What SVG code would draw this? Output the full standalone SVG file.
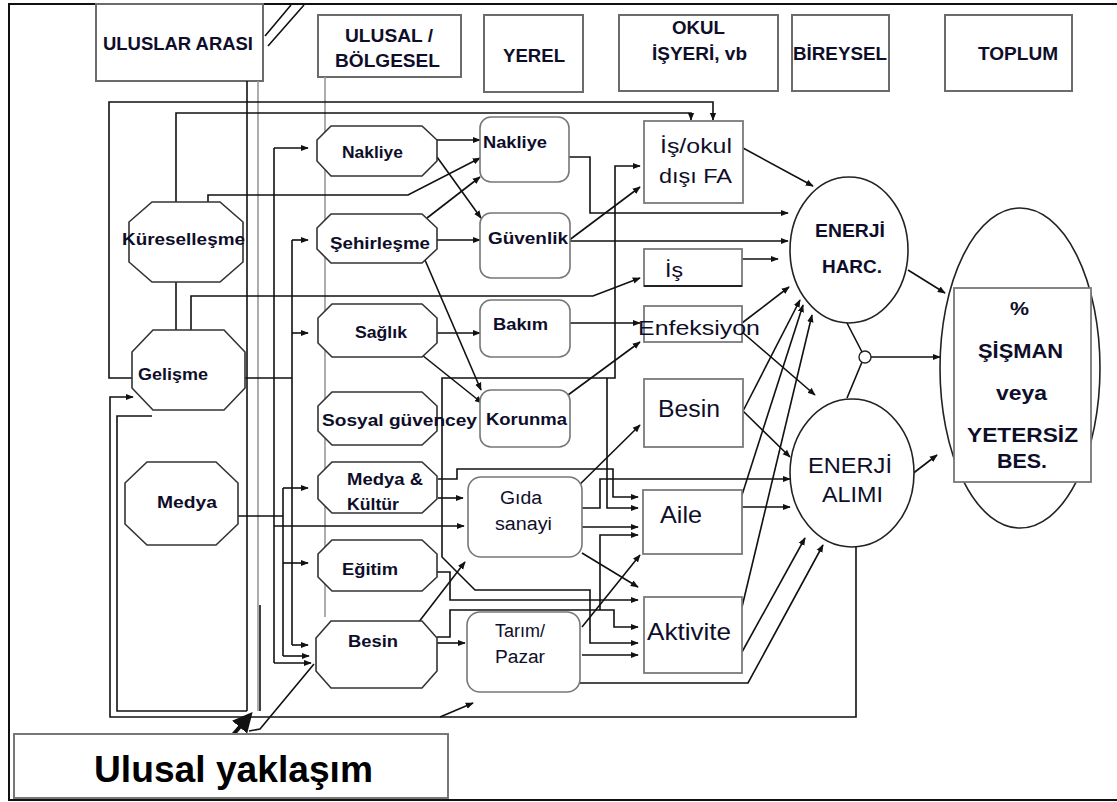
<svg xmlns="http://www.w3.org/2000/svg" width="1117" height="802" viewBox="0 0 1117 802">
<defs>
<marker id="ah" viewBox="0 0 10 10" refX="9" refY="5" markerWidth="8" markerHeight="8" markerUnits="userSpaceOnUse" orient="auto-start-reverse"><path d="M0,1 L10,5 L0,9 z" fill="#111"/></marker>
<marker id="ahb" viewBox="0 0 10 10" refX="8" refY="5" markerWidth="5" markerHeight="5" orient="auto"><path d="M0,0 L10,5 L0,10 z" fill="#111"/></marker>
</defs>
<style>
.hdr{fill:#fff;stroke:#6b6b6b;stroke-width:2}
.oct{fill:#fff;stroke:#333;stroke-width:1.6}
.rbx{fill:#fff;stroke:#777;stroke-width:1.6}
.obx{fill:#fff;stroke:#7a7a7a;stroke-width:1.8}
.ell{fill:#fff;stroke:#222;stroke-width:1.6}
.t{font-family:"Liberation Sans",Arial,sans-serif;fill:#0e0e2a}
.b{font-weight:bold}
.c{fill:none;stroke:#111;stroke-width:1.6}
.ca{fill:none;stroke:#111;stroke-width:1.6;marker-end:url(#ah)}
.g{fill:none;stroke:#999;stroke-width:1.6}
</style>
<rect x="0" y="0" width="1117" height="802" fill="#fff"/>
<g id="frame" fill="none" stroke="#111" stroke-width="2">
<path d="M1117,4 H9 V800 H1117"/>
</g>

<g id="hdr-uluslar"><rect class="hdr" x="96" y="4" width="167" height="77"/><text class="t b" x="103" y="50" font-size="18" textLength="150" lengthAdjust="spacingAndGlyphs">ULUSLAR ARASI</text></g>
<g id="hdr-ulusal"><rect class="hdr" x="318" y="15" width="143" height="62"/><text class="t b" x="345" y="42" font-size="18" textLength="88" lengthAdjust="spacingAndGlyphs">ULUSAL /</text><text class="t b" x="335" y="67" font-size="18" textLength="105" lengthAdjust="spacingAndGlyphs">BÖLGESEL</text></g>
<g id="hdr-yerel"><rect class="hdr" x="484" y="15" width="99" height="77"/><text class="t b" x="503" y="62" font-size="18" textLength="62" lengthAdjust="spacingAndGlyphs">YEREL</text></g>
<g id="hdr-okul"><rect class="hdr" x="619" y="15" width="159" height="76"/><text class="t b" x="672" y="34" font-size="18" textLength="53" lengthAdjust="spacingAndGlyphs">OKUL</text><text class="t b" x="652" y="60" font-size="18" textLength="95" lengthAdjust="spacingAndGlyphs">İŞYERİ, vb</text></g>
<g id="hdr-bireysel"><rect class="hdr" x="792" y="15" width="97" height="76"/><text class="t b" x="793" y="60" font-size="18" textLength="94" lengthAdjust="spacingAndGlyphs">BİREYSEL</text></g>
<g id="hdr-toplum"><rect class="hdr" x="945" y="15" width="127" height="76"/><text class="t b" x="978" y="60" font-size="18" textLength="80" lengthAdjust="spacingAndGlyphs">TOPLUM</text></g>

<g id="connectors">
<path class="g" d="M258,81 V711"/>
<path class="g" d="M325,77 V617"/>
<path class="c" d="M265,36 L291,5 M268,46 L304,5"/>
<path class="c" d="M247,81 V711"/>
<path class="c" d="M260,605 V711"/>
<path class="ca" d="M132,378 H109 V102 H713 V120"/>
<path class="ca" d="M176,202 V113 H691 V120"/>
<path class="c" d="M176,282 V330"/>
<path class="ca" d="M208,202 V195 H408 L480,158"/>
<path class="ca" d="M191,330 V296 H593 L640,278"/>
<path class="c" d="M245,378 H292 M292,240 V645"/>
<path class="ca" d="M292,240 H308"/>
<path class="ca" d="M292,333 H308"/>
<path class="ca" d="M292,645 H308"/>
<path class="c" d="M274,148 V663"/>
<path class="ca" d="M274,148 H308"/>
<path class="ca" d="M274,663 H311"/>
<path class="ca" d="M274,526 H464"/>
<path class="c" d="M238,516 H283 M283,488 V656"/>
<path class="ca" d="M283,488 H308"/>
<path class="ca" d="M283,563 H308"/>
<path class="ca" d="M283,656 H309"/>
<path class="c" d="M152,416 H117 V711 H247"/>
<path class="ca" d="M856,547 V717 H110 V397 H133"/>
<path class="ca" d="M440,717 L473,703"/>
<path d="M232,736 L250,715" fill="none" stroke="#111" stroke-width="4" marker-end="url(#ahb)"/>
<path class="c" d="M249,731 L260,729 L314,664"/>
<path class="ca" d="M437,140 H480"/>
<path class="ca" d="M437,157 L481,218"/>
<path class="ca" d="M427,218 L480,177" stroke-width="2.6"/>
<path class="ca" d="M437,240 H480"/>
<path class="ca" d="M425,260 L481,390"/>
<path class="ca" d="M437,333 H480"/>
<path class="ca" d="M422,355 L482,403"/>
<path class="ca" d="M569,157 H590 V213 H788"/>
<path class="ca" d="M570,241 H788"/>
<path class="ca" d="M568,241 L640,187"/>
<path class="ca" d="M565,323 H640"/>
<path class="ca" d="M568,395 L640,342"/>
<path class="ca" d="M640,166 H615 V378 H442 V557 L475,590 H590 V643 H638" marker-start="url(#ah)"/>
<path class="ca" d="M607,378 V508 H638"/>
<path class="c" d="M437,418 H442"/>
<path class="ca" d="M438,479 H457 V469 H613 V497 H638"/>
<path class="ca" d="M438,498 H463"/>
<path class="ca" d="M582,508 H600 V479 H790"/>
<path class="ca" d="M582,527 H638"/>
<path class="ca" d="M567,497 L640,425"/>
<path class="ca" d="M582,553 L638,587"/>
<path class="ca" d="M437,572 H450 V600 H638"/>
<path class="ca" d="M437,637 H450 V610 H614 V627 H638"/>
<path class="ca" d="M600,610 V535 H638"/>
<path class="ca" d="M418,623 L465,562"/>
<path class="ca" d="M435,643 H465"/>
<path class="ca" d="M582,655 H638"/>
<path class="ca" d="M582,627 L640,555"/>
<path class="ca" d="M580,683 H748 L823,545"/>
<path class="ca" d="M743,148 L813,186"/>
<path class="ca" d="M742,259 H778"/>
<path class="ca" d="M742,323 L789,287"/>
<path class="ca" d="M742,332 L815,395"/>
<path class="ca" d="M742,413 L800,300"/>
<path class="ca" d="M742,410 L790,457"/>
<path class="ca" d="M742,495 L803,305"/>
<path class="ca" d="M742,507 H790"/>
<path class="ca" d="M742,607 L812,315"/>
<path class="ca" d="M742,652 L805,538"/>
<path class="ca" d="M908,270 L945,293"/>
<path class="c" d="M847,323 L862,352 M862,362 L847,398"/>
<path class="ca" d="M871,357 H940"/>
<path class="ca" d="M907,478 L937,455"/>
</g>

<g id="kureselleşme"><path class="oct" d="M152,202 H220 L243,222 V262 L220,282 H152 L129,262 V222 Z"/><text class="t b" x="122" y="245" font-size="17" textLength="123" lengthAdjust="spacingAndGlyphs">Küreselleşme</text></g>
<g id="gelisme"><path class="oct" d="M153,330 H224 L245,352 V388 L224,410 H153 L132,388 V352 Z"/><text class="t b" x="138" y="380" font-size="17" textLength="70" lengthAdjust="spacingAndGlyphs">Gelişme</text></g>
<g id="medya"><path class="oct" d="M147,462 H216 L238,483 V524 L216,545 H147 L125,524 V483 Z"/><text class="t b" x="157" y="508" font-size="17" textLength="60" lengthAdjust="spacingAndGlyphs">Medya</text></g>

<g id="nakliye-oct"><path class="oct" d="M331,126 H422 L437,140 V161 L422,176 H331 L317,161 V140 Z"/><text class="t b" x="342" y="158" font-size="17" textLength="61" lengthAdjust="spacingAndGlyphs">Nakliye</text></g>
<g id="sehirlesme"><path class="oct" d="M331,214 H422 L437,228 V249 L422,263 H331 L317,249 V228 Z"/><text class="t b" x="330" y="249" font-size="17" textLength="100" lengthAdjust="spacingAndGlyphs">Şehirleşme</text></g>
<g id="saglik"><path class="oct" d="M332,304 H422 L437,318 V343 L422,357 H332 L318,343 V318 Z"/><text class="t b" x="355" y="338" font-size="17" textLength="52" lengthAdjust="spacingAndGlyphs">Sağlık</text></g>
<g id="sosyal"><path class="oct" d="M332,392 H422 L437,406 V431 L422,445 H332 L318,431 V406 Z"/><text class="t b" x="322" y="426" font-size="17" textLength="155" lengthAdjust="spacingAndGlyphs">Sosyal güvencey</text></g>
<g id="medya-kultur"><path class="oct" d="M332,462 H422 L437,476 V499 L422,513 H332 L318,499 V476 Z"/><text class="t b" x="347" y="485" font-size="17" textLength="76" lengthAdjust="spacingAndGlyphs">Medya &amp;</text><text class="t b" x="347" y="510" font-size="17" textLength="52" lengthAdjust="spacingAndGlyphs">Kültür</text></g>
<g id="egitim"><path class="oct" d="M332,540 H422 L437,554 V577 L422,591 H332 L318,577 V554 Z"/><text class="t b" x="342" y="575" font-size="17" textLength="56" lengthAdjust="spacingAndGlyphs">Eğitim</text></g>
<g id="besin-oct"><path class="oct" d="M331,621 H422 L437,638 V671 L422,688 H331 L316,671 V638 Z"/><text class="t b" x="348" y="647" font-size="17" textLength="50" lengthAdjust="spacingAndGlyphs">Besin</text></g>

<g id="nakliye-box"><rect class="rbx" x="480" y="117" width="89" height="65" rx="11"/><text class="t b" x="483" y="148" font-size="17" textLength="64" lengthAdjust="spacingAndGlyphs">Nakliye</text></g>
<g id="guvenlik"><rect class="rbx" x="480" y="213" width="90" height="65" rx="11"/><text class="t b" x="488" y="244" font-size="17" textLength="80" lengthAdjust="spacingAndGlyphs">Güvenlik</text></g>
<g id="bakim"><rect class="rbx" x="480" y="300" width="90" height="57" rx="11"/><text class="t b" x="493" y="330" font-size="17" textLength="55" lengthAdjust="spacingAndGlyphs">Bakım</text></g>
<g id="korunma"><rect class="rbx" x="480" y="390" width="90" height="57" rx="11"/><text class="t b" x="486" y="425" font-size="17" textLength="81" lengthAdjust="spacingAndGlyphs">Korunma</text></g>
<g id="gida"><rect class="rbx" x="468" y="477" width="114" height="80" rx="13"/><text class="t" x="500" y="504" font-size="18" textLength="42" lengthAdjust="spacingAndGlyphs">Gıda</text><text class="t" x="495" y="530" font-size="18" textLength="57" lengthAdjust="spacingAndGlyphs">sanayi</text></g>
<g id="tarim"><rect class="rbx" x="467" y="612" width="113" height="80" rx="13"/><text class="t" x="495" y="637" font-size="18" textLength="50" lengthAdjust="spacingAndGlyphs">Tarım/</text><text class="t" x="495" y="663" font-size="18" textLength="50" lengthAdjust="spacingAndGlyphs">Pazar</text></g>

<g id="isokul"><rect class="obx" x="644" y="121" width="99" height="82"/><text class="t" x="660" y="153" font-size="21" textLength="72" lengthAdjust="spacingAndGlyphs">İş/okul</text><text class="t" x="659" y="183" font-size="21" textLength="73" lengthAdjust="spacingAndGlyphs">dışı FA</text></g>
<g id="is"><rect class="obx" x="644" y="249" width="98" height="37"/><path d="M644,286 H742" stroke="#222" stroke-width="2"/><text class="t" x="665" y="277" font-size="21" textLength="18" lengthAdjust="spacingAndGlyphs">İş</text></g>
<g id="enfeksiyon"><rect class="obx" x="644" y="306" width="98" height="36"/><text class="t" x="638" y="335" font-size="21" textLength="122" lengthAdjust="spacingAndGlyphs">Enfeksiyon</text></g>
<g id="besin-box"><rect class="obx" x="644" y="379" width="99" height="68"/><text class="t" x="658" y="417" font-size="23" textLength="62" lengthAdjust="spacingAndGlyphs">Besin</text></g>
<g id="aile"><rect class="obx" x="643" y="490" width="99" height="64"/><text class="t" x="660" y="523" font-size="24" textLength="42" lengthAdjust="spacingAndGlyphs">Aile</text></g>
<g id="aktivite"><rect class="obx" x="644" y="597" width="98" height="76"/><text class="t" x="647" y="640" font-size="24" textLength="84" lengthAdjust="spacingAndGlyphs">Aktivite</text></g>

<g id="enerji-harc"><ellipse class="ell" cx="849" cy="250" rx="59" ry="73"/><text class="t b" x="815" y="237" font-size="19" textLength="70" lengthAdjust="spacingAndGlyphs">ENERJİ</text><text class="t b" x="822" y="273" font-size="19" textLength="60" lengthAdjust="spacingAndGlyphs">HARC.</text></g>
<g id="enerji-alimi"><ellipse class="ell" cx="852" cy="473" rx="62" ry="74"/><text class="t" x="808" y="473" font-size="22" textLength="84" lengthAdjust="spacingAndGlyphs">ENERJİ</text><text class="t" x="822" y="502" font-size="22" textLength="61" lengthAdjust="spacingAndGlyphs">ALIMI</text></g>
<g id="junction"><circle cx="865" cy="357" r="6" fill="#fff" stroke="#222" stroke-width="1.4"/></g>
<g id="sonuc"><ellipse class="ell" cx="1020" cy="368" rx="80" ry="160"/><rect x="954" y="288" width="137" height="194" fill="#fff" stroke="#777" stroke-width="1.8"/>
<text class="t b" x="1010" y="315" font-size="18" textLength="19" lengthAdjust="spacingAndGlyphs">%</text>
<text class="t b" x="978" y="358" font-size="21" textLength="85" lengthAdjust="spacingAndGlyphs">ŞİŞMAN</text>
<text class="t b" x="996" y="400" font-size="21" textLength="51" lengthAdjust="spacingAndGlyphs">veya</text>
<text class="t b" x="967" y="442" font-size="21" textLength="111" lengthAdjust="spacingAndGlyphs">YETERSİZ</text>
<text class="t b" x="997" y="468" font-size="21" textLength="50" lengthAdjust="spacingAndGlyphs">BES.</text></g>

<g id="ulusal-yaklasim"><rect x="14" y="734" width="434" height="64" fill="#fff" stroke="#777" stroke-width="2"/><text class="t b" x="94" y="782" font-size="36" textLength="279" lengthAdjust="spacingAndGlyphs" style="fill:#000">Ulusal yaklaşım</text></g>
</svg>
